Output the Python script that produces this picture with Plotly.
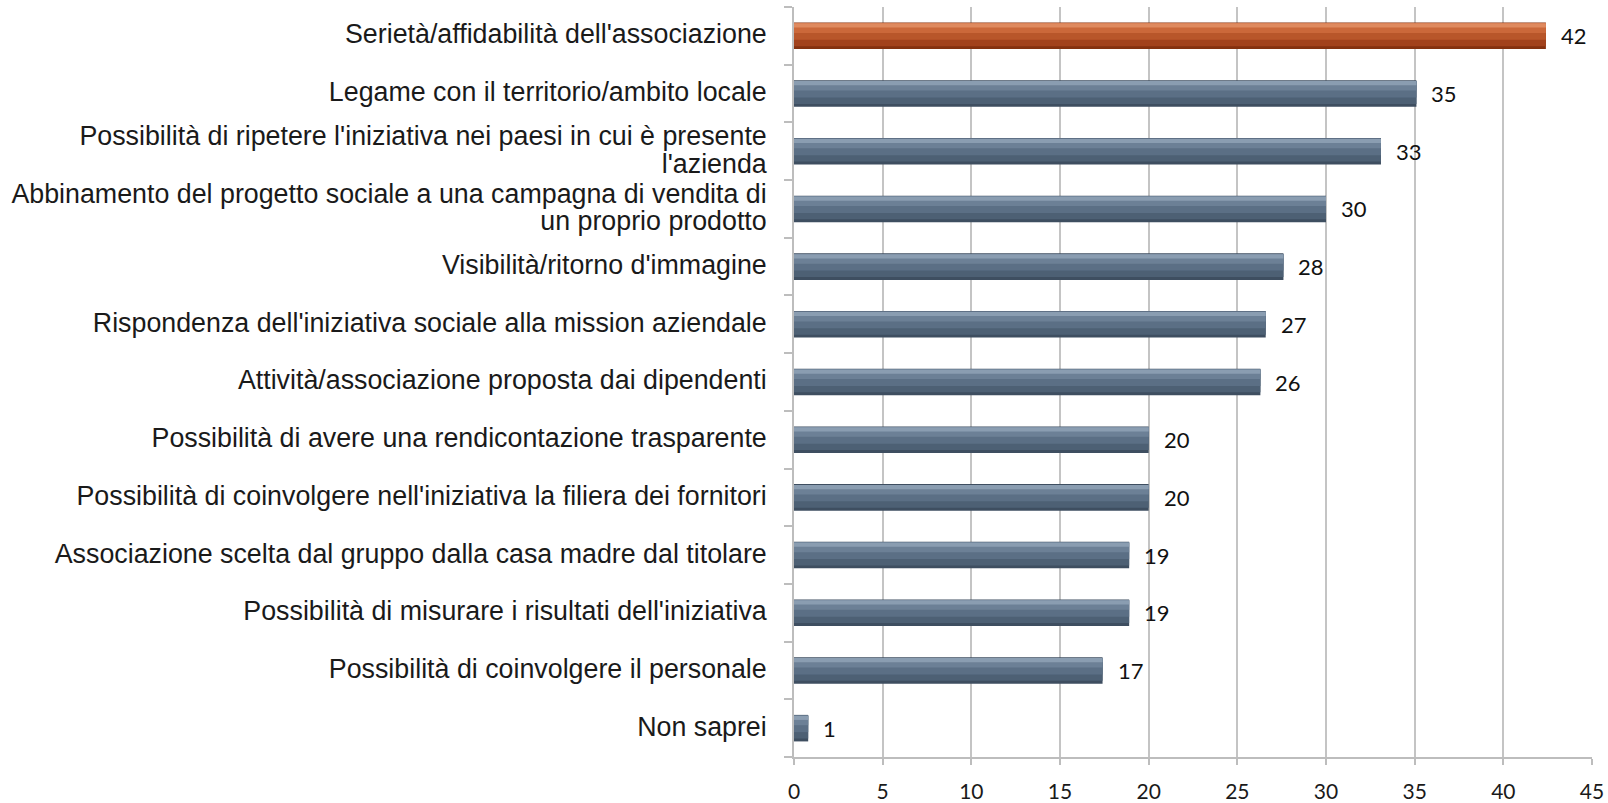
import plotly.graph_objects as go

categories = [
    "Serietà/affidabilità dell'associazione",
    "Legame con il territorio/ambito locale",
    "Possibilità di ripetere l'iniziativa nei paesi in cui è presente<br>l'azienda",
    "Abbinamento del progetto sociale a una campagna di vendita di<br>un proprio prodotto",
    "Visibilità/ritorno d'immagine",
    "Rispondenza dell'iniziativa sociale alla mission aziendale",
    "Attività/associazione proposta dai dipendenti",
    "Possibilità di avere una rendicontazione trasparente",
    "Possibilità di coinvolgere nell'iniziativa la filiera dei fornitori",
    "Associazione scelta dal gruppo dalla casa madre dal titolare",
    "Possibilità di misurare i risultati dell'iniziativa",
    "Possibilità di coinvolgere il personale",
    "Non saprei",
]
values = [42.4, 35.1, 33.1, 30.0, 27.6, 26.6, 26.3, 20.0, 20.0, 18.9, 18.9, 17.4, 0.8]
labels = [f"{v:.0f}" for v in values]
highlight_index = 0

# gradient layers (fraction of bar height from the top, normal colour, highlight colour)
layers = [
    (1.00, "#3e4e60", "#83310f"),
    (0.86, "#4d6074", "#a2421c"),
    (0.62, "#5b6f85", "#b8562a"),
    (0.36, "#6c8096", "#cb683a"),
    (0.16, "#8a9db1", "#df8a5f"),
]

BW = 0.46
fig = go.Figure()
for frac, col, hcol in layers:
    colors = [hcol if i == highlight_index else col for i in range(len(values))]
    fig.add_trace(go.Bar(
        x=values, y=categories, orientation="h",
        marker=dict(color=colors, line=dict(width=0)),
        width=BW * frac, offset=-BW / 2 + (0.03 * BW if frac < 1 else 0),
        hoverinfo="skip", showlegend=False,
    ))

for v, c, t in zip(values, categories, labels):
    fig.add_annotation(
        x=v, y=c, text=t, showarrow=False, xanchor="left", yanchor="middle",
        xshift=13, font=dict(family="Lato, Carlito, sans-serif", size=22, color="#111111"),
    )

# tick text: large glyphs, but tighter line spacing (based on the smaller tickfont size)
ticktext = [
    "<br>".join(f'<span style="font-size:26.8px">{ln}</span>' for ln in c.split("<br>"))
    for c in categories
]

fig.update_layout(
    width=1608, height=803,
    margin=dict(l=794, r=16, t=7, b=46, autoexpand=False),
    paper_bgcolor="white", plot_bgcolor="white",
    barmode="overlay",
    font=dict(family="Liberation Sans, Arial, sans-serif", size=21, color="#1a1a1a"),
)
fig.update_xaxes(
    range=[0, 45], dtick=5, tick0=0,
    showgrid=True, gridcolor="#c4c4c4", gridwidth=1.5,
    showline=True, linecolor="#bdbdbd", linewidth=2,
    ticks="outside", ticklen=6, tickcolor="#bdbdbd", tickwidth=1.5,
    tickfont=dict(family="Lato, Carlito, sans-serif", size=21, color="#1a1a1a"),
    ticklabelstandoff=9, zeroline=False,
)
fig.update_yaxes(
    type="category", autorange="reversed",
    tickmode="array", tickvals=categories, ticktext=ticktext,
    showgrid=False, showline=True, linecolor="#bdbdbd", linewidth=2,
    ticks="outside", ticklen=8, tickcolor="#bdbdbd", tickwidth=1.5,
    tickson="boundaries", ticklabelstandoff=21,
    tickfont=dict(family="Liberation Sans, Arial, sans-serif", size=21.3, color="#1a1a1a"),
)

fig.write_html(
    "out.html",
    config={"displayModeBar": False},
    post_script="document.body.style.margin='0';document.body.style.overflow='hidden';",
)
